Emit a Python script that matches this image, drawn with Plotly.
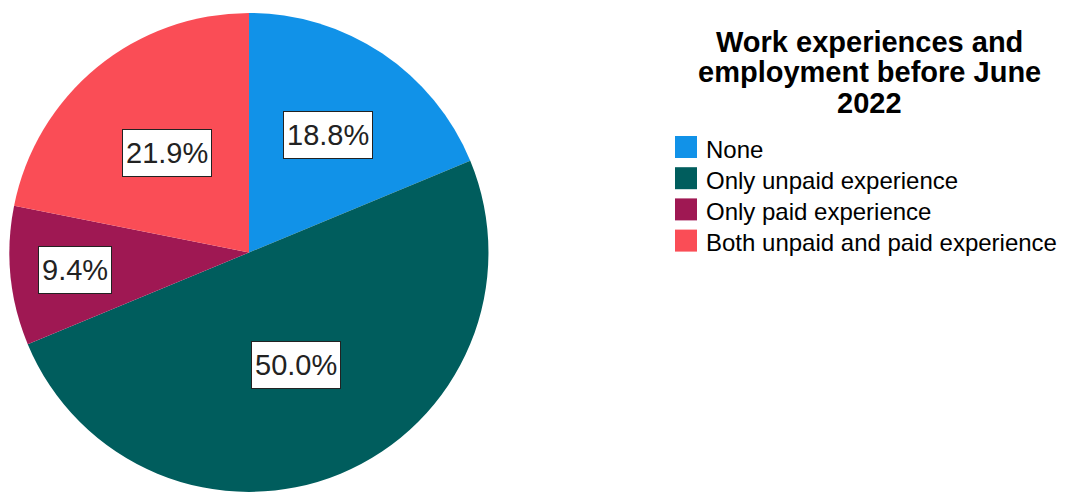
import math
import plotly.graph_objects as go

# ---- data ----
categories = ["None", "Only unpaid experience", "Only paid experience",
              "Both unpaid and paid experience"]
counts = [6, 16, 3, 7]
legend_title_lines = ["Work experiences and", "employment before June", "2022"]

# ---- styles ----
colors = ["#1192e8", "#005d5d", "#9f1853", "#fa4d56"]
W, H = 1067, 492
CX, CY, R = 249.0, 252.5, 239.5          # pie centre / radius in px
label_radius = [0.59, 0.51, 0.73, 0.54]   # radial position of labels (fraction of R)
FONT = "Liberation Sans, Arial, sans-serif"

fig = go.Figure()
fig.add_trace(go.Pie(
    labels=categories, values=counts, sort=False, direction="clockwise",
    rotation=0, marker=dict(colors=colors, line=dict(width=0)),
    textinfo="none", hoverinfo="label+percent", showlegend=False,
    domain=dict(x=[(CX - R) / W, (CX + R) / W], y=[0, 2 * R / H]),
))

total = sum(counts)
annotations = []
shapes = []
cum = 0
for i, (cat, v) in enumerate(zip(categories, counts)):
    mid = (cum + v / 2) / total * 2 * math.pi
    cum += v
    rr = R * label_radius[i]
    px = CX + rr * math.sin(mid)
    py = CY - rr * math.cos(mid)
    annotations.append(dict(
        x=px / W, y=1 - py / H, xref="paper", yref="paper",
        text=f"{v / total * 100:.1f}%", showarrow=False,
        font=dict(family=FONT, size=29, color="#222"),
        bgcolor="white", bordercolor="#222", borderwidth=1, borderpad=3,
        height=40, valign="middle",
        xanchor="center", yanchor="middle",
    ))

# legend title, one annotation per line to match tight line spacing
for j, line in enumerate(legend_title_lines):
    annotations.append(dict(
        x=869 / W, y=1 - (42 + j * 30.5) / H, xref="paper", yref="paper",
        text=f"<b>{line}</b>", showarrow=False, xanchor="center", yanchor="middle",
        font=dict(family=FONT, size=29, color="black"),
    ))

# legend items (colour squares + labels)
item_y0, item_dy = 147, 31.2
for i, cat in enumerate(categories):
    yc = item_y0 + i * item_dy
    shapes.append(dict(type="rect", xref="paper", yref="paper",
                       x0=675 / W, x1=697 / W, y0=1 - (yc - 11) / H, y1=1 - (yc + 11) / H,
                       fillcolor=colors[i], line=dict(width=0)))
    annotations.append(dict(
        x=704 / W, y=1 - (yc + 2) / H, xref="paper", yref="paper", text=cat,
        showarrow=False, xanchor="left", yanchor="middle",
        font=dict(family=FONT, size=24, color="black"),
    ))

fig.update_layout(
    width=W, height=H, margin=dict(l=0, r=0, t=0, b=0),
    paper_bgcolor="white", plot_bgcolor="white",
    annotations=annotations, shapes=shapes, showlegend=False,
)
fig.write_html("out.html")
